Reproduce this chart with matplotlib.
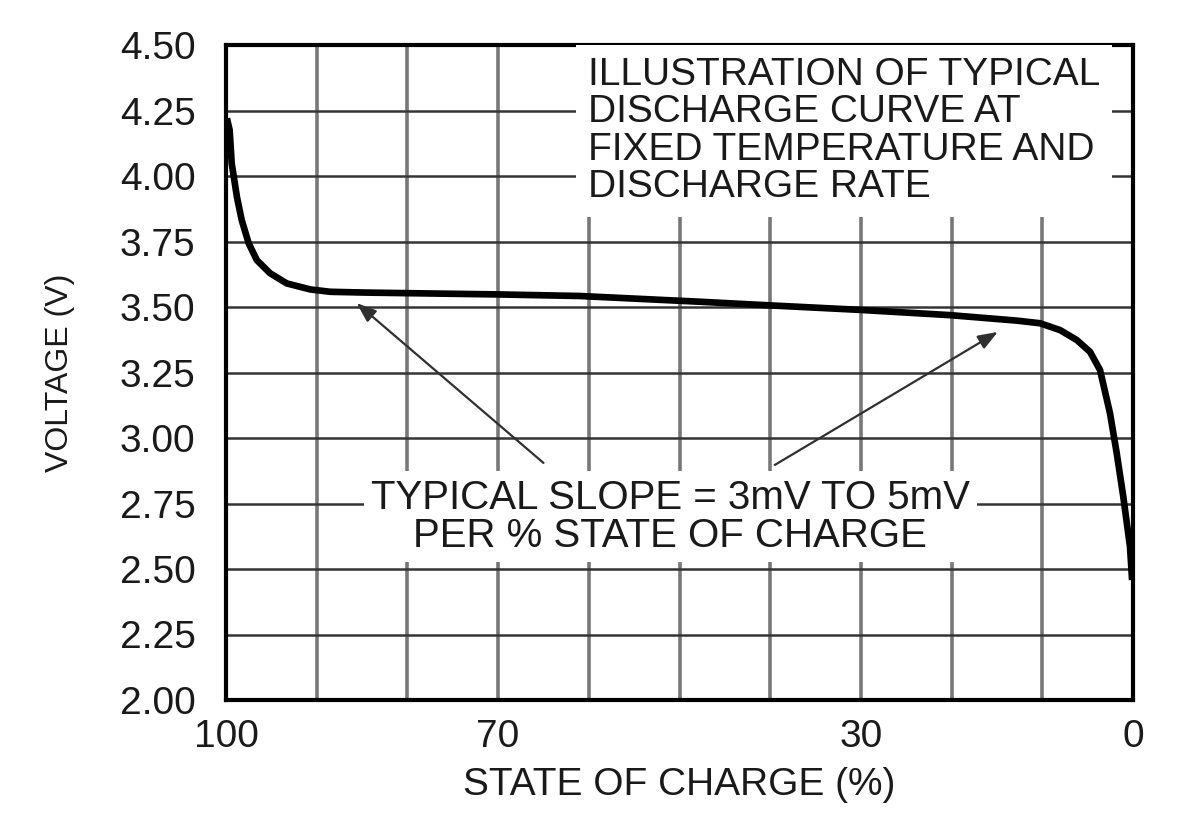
import matplotlib
matplotlib.use("Agg")
import matplotlib.pyplot as plt

plt.rcParams['font.family'] = ['Liberation Sans', 'DejaVu Sans']

# discharge curve
soc = [99.9, 99.6, 99.37, 98.8, 98.27, 97.5, 96.6, 95.15, 93.3, 90.7, 88.5, 84.5,
       70.0, 61.0, 47.7, 41.1, 30.1, 20.2, 12.8, 10.25, 8.05, 6.2, 4.74, 3.64,
       2.54, 1.8, 1.07, 0.33, 0.1]
volt = [4.22, 4.176, 4.048, 3.921, 3.832, 3.743, 3.679, 3.629, 3.590, 3.567, 3.558, 3.555,
        3.548, 3.542, 3.520, 3.508, 3.489, 3.469, 3.448, 3.438, 3.412, 3.374, 3.329, 3.26,
        3.095, 2.943, 2.776, 2.585, 2.458]

x_ticks = [100, 90, 80, 70, 60, 50, 40, 30, 20, 10, 0]
x_labels = ['100', '', '', '70', '', '', '', '30', '', '', '0']
y_ticks = [2.00, 2.25, 2.50, 2.75, 3.00, 3.25, 3.50, 3.75, 4.00, 4.25, 4.50]

# arrow ends: (soc, volt) of head and tail
arrow_heads = [(85.6, 3.515), (14.9, 3.405)]
arrow_tails = [(65.0, 2.905), (39.5, 2.897)]

fig = plt.figure(figsize=(11.83, 8.22), dpi=100)
ax = fig.add_axes([226 / 1183, 1 - 700 / 822, 907 / 1183, 655 / 822])

# grid drawn by hand so vertical and horizontal can differ a bit
for t in x_ticks[1:-1]:
    ax.axvline(t, color='#787878', lw=2.6, zorder=1)
for t in y_ticks[1:-1]:
    ax.axhline(t, color='#353535', lw=1.8, zorder=1)

ax.plot(soc, volt, color='black', lw=4.8, solid_capstyle='butt', zorder=4)

ax.set_xlim(100, 0)
ax.set_ylim(2.0, 4.5)
ax.set_xticks(x_ticks)
ax.set_xticklabels(x_labels)
ax.set_yticks(y_ticks)
ax.set_yticklabels(['%.2f' % v for v in y_ticks])
ax.tick_params(axis='both', length=0, labelsize=28, colors='#1a1a1a')
ax.tick_params(axis='x', pad=14)
ax.tick_params(axis='y', pad=22)

for s in ax.spines.values():
    s.set_linewidth(3.0)
    s.set_color('black')

ax.set_xlabel('STATE OF CHARGE (%)', fontsize=28, color='#1a1a1a', labelpad=8)
ax.set_ylabel('VOLTAGE (V)', fontsize=23, color='#1a1a1a', labelpad=32)

ax.text(60.1, 4.455, 'ILLUSTRATION OF TYPICAL\nDISCHARGE CURVE AT\nFIXED TEMPERATURE AND\nDISCHARGE RATE',
        fontsize=28, ha='left', va='top', linespacing=1.05, color='#1a1a1a', zorder=3,
        bbox=dict(facecolor='white', edgecolor='none', boxstyle='square,pad=0.3'))

ax.text(51.0, 2.70, 'TYPICAL SLOPE = 3mV TO 5mV\nPER % STATE OF CHARGE',
        fontsize=29, ha='center', va='center', linespacing=1.0, color='#1a1a1a', zorder=3,
        bbox=dict(facecolor='white', edgecolor='none', boxstyle='square,pad=0.18'))

for head, tail in zip(arrow_heads, arrow_tails):
    ax.annotate('', xy=head, xytext=tail, zorder=5,
                arrowprops=dict(arrowstyle='-|>,head_length=1.2,head_width=0.45',
                                color='#303030', lw=1.6, shrinkA=0, shrinkB=0))

fig.savefig('out.png', dpi=100, facecolor='white')
